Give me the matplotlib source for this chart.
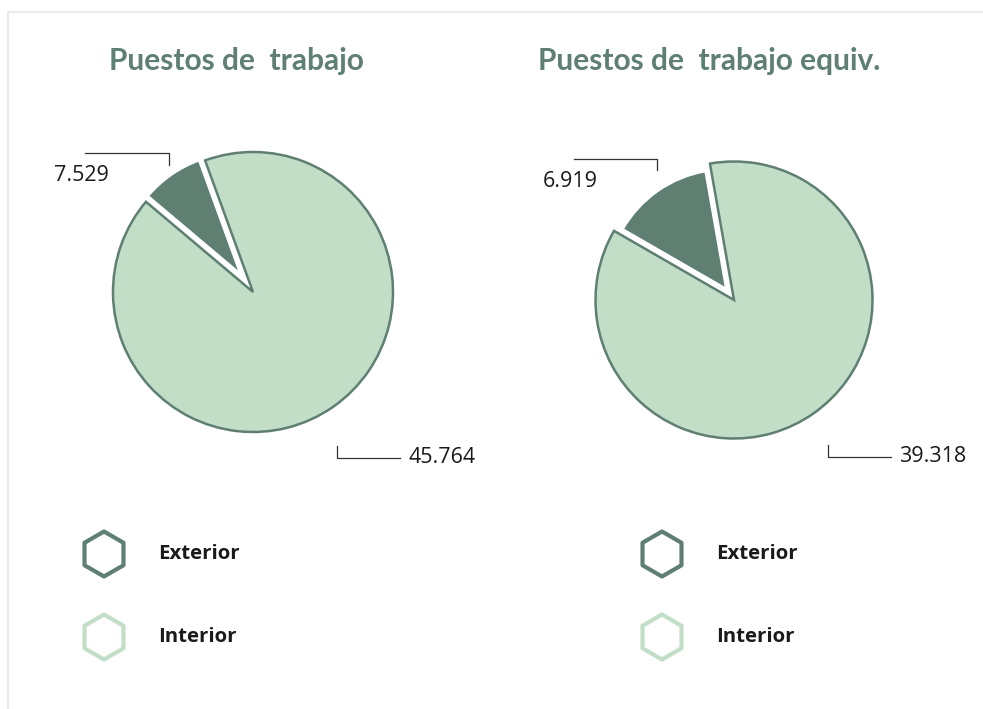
import matplotlib.pyplot as plt
import numpy as np

titles = ['Puestos de  trabajo', 'Puestos de  trabajo equiv.']
categories = ['Exterior', 'Interior']
value_labels = [['7.529', '45.764'], ['6.919', '39.318']]
# slice shares as drawn in the picture (percent)
shares = [[8.3, 91.7], [13.9, 86.1]]

dark = '#5e7f72'
light = '#c2dec7'
text_col = '#1a1a1a'

W, H = 983, 709
fig = plt.figure(figsize=(W / 100, H / 100), dpi=100)

# pixel-space overlay for frame and legends
bg = fig.add_axes([0, 0, 1, 1])
bg.set_xlim(0, W)
bg.set_ylim(H, 0)
bg.axis('off')
bg.plot([8, 8, W], [H, 12, 12], color='#ebebeb', lw=1.5)

# pie layout: centre (px), radius (px), explode, start angle, title x,
# small angular nudges for the label leaders
layout = [
    dict(cx=253, cy=292, r=140, explode=0.16, start=110, tx=236, nudge=(-1.5, -6.4)),
    dict(cx=734, cy=300, r=138.5, explode=0.10, start=100, tx=709, nudge=(-4.4, -2.0)),
]
leg_x = [104, 662]
leg_y = [554, 637]

for i, lay in enumerate(layout):
    side = 3 * lay['r']
    ax = fig.add_axes([(lay['cx'] - side / 2) / W, 1 - (lay['cy'] + side / 2) / H,
                       side / W, side / H])

    wedges, _ = ax.pie(shares[i], colors=[dark, light], startangle=lay['start'],
                       explode=[lay['explode'], 0], radius=1,
                       wedgeprops=dict(linewidth=1.8))
    ax.set_xlim(-1.5, 1.5)
    ax.set_ylim(-1.5, 1.5)
    ax.axis('off')
    wedges[0].set_edgecolor('white')
    wedges[0].set_linewidth(1.5)
    wedges[0].set_radius(0.86)
    wedges[1].set_edgecolor(dark)
    wedges[0].set_zorder(3)

    # leader lines
    a0 = np.deg2rad(lay['start'] + shares[i][0] * 3.6 / 2 + lay['nudge'][0])
    p0 = 1.09 * np.array([np.cos(a0), np.sin(a0)])
    p1 = p0 + [0, 0.08]
    p2 = p1 + [-0.6, 0]
    ax.plot([p0[0], p1[0], p2[0]], [p0[1], p1[1], p2[1]], color='#333333', lw=0.9,
            clip_on=False)
    ax.text(p2[0] + 0.17, p1[1] - 0.16, value_labels[i][0], ha='right', va='center',
            fontsize=15.5, color=text_col, family='Open Sans')

    a1 = np.deg2rad(lay['start'] + shares[i][0] * 3.6 + shares[i][1] * 3.6 / 2
                    + lay['nudge'][1])
    q0 = 1.25 * np.array([np.cos(a1), np.sin(a1)])
    q1 = q0 + [0, -0.085]
    q2 = q1 + [0.45, 0]
    ax.plot([q0[0], q1[0], q2[0]], [q0[1], q1[1], q2[1]], color='#333333', lw=0.9,
            clip_on=False)
    ax.text(q2[0] + 0.06, q1[1], value_labels[i][1], ha='left', va='center',
            fontsize=15.5, color=text_col, family='Open Sans')

    bg.text(lay['tx'], 61, titles[i], ha='center', va='center', fontsize=21.5,
            fontweight='bold', color=dark, family='Lato')

    # legend
    for j, cat in enumerate(categories):
        bg.scatter(leg_x[i], leg_y[j], s=1050, marker='h', facecolor='none',
                   edgecolor=[dark, light][j], linewidth=3)
        bg.text(leg_x[i] + 54, leg_y[j], cat, ha='left', va='center', fontsize=14.7,
                fontweight='bold', color=text_col, family='Open Sans')

fig.savefig('out.png', dpi=100)
